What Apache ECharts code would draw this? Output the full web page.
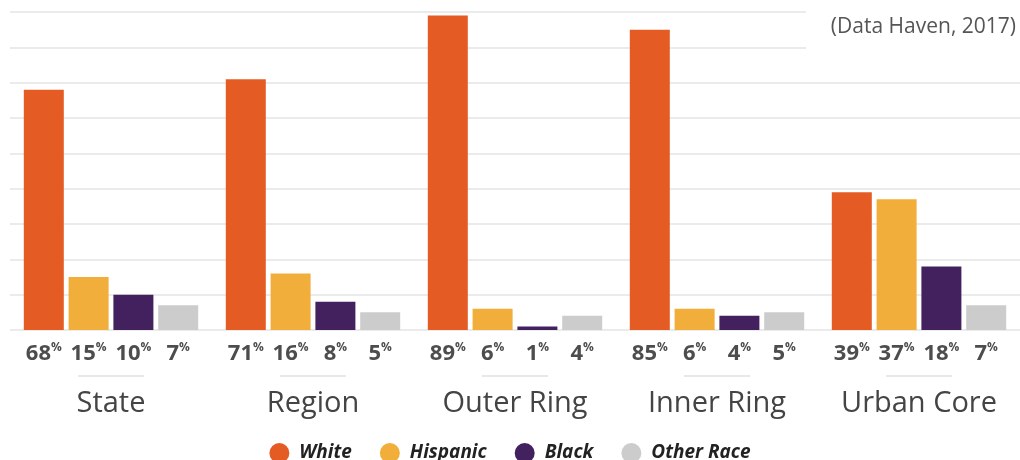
<!DOCTYPE html>
<html>
<head>
<meta charset="utf-8">
<script src="https://cdn.jsdelivr.net/npm/echarts@6/dist/echarts.min.js"></script>
<style>
  html, body { margin: 0; padding: 0; background: #fff; }
  #chart { width: 1020px; height: 460px; }
</style>
</head>
<body>
<div id="chart"></div>
<script>
// data
var categories = ['State', 'Region', 'Outer Ring', 'Inner Ring', 'Urban Core'];
var white = [68, 71, 89, 85, 39];
var hispanic = [15, 16, 6, 6, 37];
var black = [10, 8, 1, 4, 18];
var otherRace = [7, 5, 4, 5, 7];
var seriesNames = ['White', 'Hispanic', 'Black', 'Other Race'];
var colors = ['#e45c24', '#f2ae3a', '#42215e', '#cccccc'];
var sourceNote = '(Data Haven, 2017)';

var chart = echarts.init(document.getElementById('chart'));

function makeSeries(name, data, color) {
  return {
    name: name,
    type: 'bar',
    data: data,
    barWidth: 40,
    barGap: '12%',
    itemStyle: { color: color },
    label: {
      show: true,
      position: ['50%', '100%'],
      align: 'center',
      verticalAlign: 'middle',
      offset: [0, 24],
      formatter: function (p) { return '{n|' + p.value + '}{p|%}'; },
      rich: {
        n: { fontFamily: 'Open Sans', fontWeight: 'bold', fontSize: 22, color: '#4d4d4d', lineHeight: 24 },
        p: { fontFamily: 'Open Sans', fontWeight: 'bold', fontSize: 12, color: '#4d4d4d', verticalAlign: 'top', lineHeight: 24, padding: [0, 0, 8, 0] }
      }
    }
  };
}

chart.setOption({
  animation: false,
  grid: { left: 10, right: 0, top: 12, bottom: 130 },
  xAxis: {
    type: 'category',
    data: categories,
    axisLine: { show: false },
    axisTick: { show: false },
    axisLabel: {
      margin: 45,
      formatter: function (v) { return '{line|}\n{name|' + v + '}'; },
      rich: {
        line: { width: 66, height: 2, lineHeight: 2, backgroundColor: '#e8e8e8' },
        name: { fontFamily: 'Open Sans', fontSize: 29, color: '#444', lineHeight: 54 }
      }
    }
  },
  yAxis: {
    type: 'value',
    min: 0,
    max: 90,
    interval: 10,
    axisLabel: { show: false },
    axisLine: { show: false },
    axisTick: { show: false },
    splitLine: { lineStyle: { color: '#ebebeb', width: 2 } }
  },
  legend: {
    data: seriesNames,
    top: 438,
    left: 'center',
    icon: 'circle',
    itemWidth: 20,
    itemHeight: 20,
    itemGap: 28,
    textStyle: {
      fontFamily: 'Open Sans',
      fontWeight: 'bold',
      fontStyle: 'italic',
      fontSize: 19,
      color: '#222',
      padding: [0, 0, 0, 5]
    }
  },
  graphic: [
    { type: 'rect', z: 100, shape: { x: 806, y: 0, width: 214, height: 60 }, style: { fill: '#fff' } },
    {
      type: 'text', z: 101, right: 4, top: 17,
      style: { text: sourceNote, fontFamily: 'Open Sans', fontSize: 21, fill: '#555' }
    }
  ],
  series: [
    makeSeries(seriesNames[0], white, colors[0]),
    makeSeries(seriesNames[1], hispanic, colors[1]),
    makeSeries(seriesNames[2], black, colors[2]),
    makeSeries(seriesNames[3], otherRace, colors[3])
  ]
});
</script>
</body>
</html>
